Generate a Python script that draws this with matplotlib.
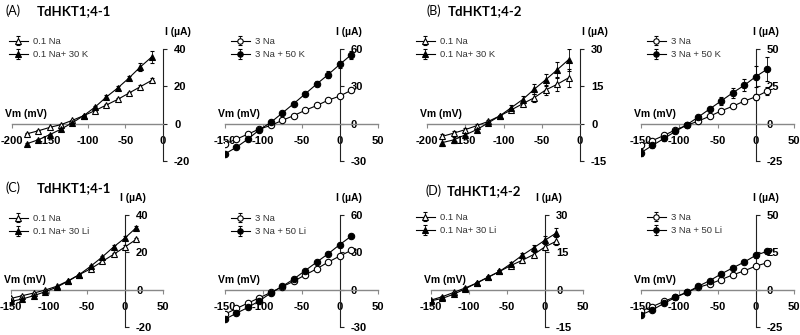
import matplotlib
matplotlib.use("Agg")
import matplotlib.pyplot as plt

plt.rcParams.update({
    "font.family": ["Liberation Sans", "DejaVu Sans"],
    "axes.unicode_minus": False,
})

W, H = 800, 335

# ---------------------------------------------------------------- data
V_LONG = [-180, -165, -150, -135, -120, -105, -90, -75, -60, -45, -30, -15]
V_SHORT = [-150, -135, -120, -105, -90, -75, -60, -45, -30, -15, 0, 15]

# (A) TdHKT1;4-1, K+ addition
a1_na = [-5.4, -3.8, -2.0, -0.5, 1.8, 4.3, 7.0, 10.0, 13.0, 16.4, 19.8, 23.2]
a1_na_err = [0.3, 0.3, 0.3, 0.2, 0.2, 0.3, 0.4, 0.5, 0.6, 0.7, 0.8, 1.0]
a1_nak = [-10.7, -8.6, -5.9, -2.9, 0.5, 4.3, 8.9, 14.3, 19.1, 24.5, 30.4, 35.7]
a1_nak_err = [0.5, 0.4, 0.4, 0.3, 0.3, 0.4, 0.6, 0.8, 1.0, 1.3, 2.2, 3.0]
a2_na = [-16.2, -12.4, -8.4, -4.3, -1.4, 2.7, 6.5, 10.8, 14.6, 18.9, 22.2, 26.8]
a2_na_err = [0.8, 0.6, 0.5, 0.4, 0.3, 0.4, 0.5, 0.6, 0.7, 0.8, 1.0, 1.2]
a2_nak = [-24.3, -18.9, -12.4, -4.9, 1.1, 8.6, 16.2, 24.0, 31.9, 39.5, 47.6, 55.4]
a2_nak_err = [1.0, 0.8, 0.7, 0.6, 0.5, 0.8, 1.2, 1.5, 2.0, 3.0, 3.0, 3.2]

# (B) TdHKT1;4-2, K+ addition
b1_na = [-5.1, -3.8, -2.4, -0.8, 0.9, 3.1, 5.5, 8.0, 10.4, 13.5, 15.8, 18.4]
b1_na_err = [0.8, 0.8, 0.8, 0.6, 0.5, 0.5, 0.8, 1.0, 1.5, 2.0, 2.5, 3.5]
b1_nak = [-7.6, -6.5, -4.5, -2.4, 0.3, 3.1, 6.4, 9.7, 13.8, 17.6, 21.6, 25.7]
b1_nak_err = [1.5, 1.2, 1.0, 0.8, 0.5, 0.5, 1.0, 1.5, 2.0, 2.5, 3.0, 4.5]
b2_na = [-14.2, -11.3, -7.9, -4.1, -1.1, 1.8, 5.0, 8.6, 11.7, 15.1, 18.0, 21.8]
b2_na_err = [1.0, 1.0, 1.0, 0.8, 0.5, 0.5, 0.8, 1.0, 1.2, 1.5, 2.0, 2.5]
b2_nak = [-19.4, -14.6, -9.9, -5.2, -0.7, 4.5, 9.9, 15.3, 20.7, 25.7, 31.5, 36.5]
b2_nak_err = [2.5, 2.0, 1.5, 1.0, 0.8, 1.0, 1.5, 2.5, 3.5, 4.0, 7.0, 8.0]

# (C) TdHKT1;4-1, Li+ addition
c1_na = [-4.7, -3.2, -1.8, -0.2, 1.8, 4.7, 8.1, 11.2, 15.1, 18.9, 22.9, 27.0]
c1_na_err = [0.3, 0.3, 0.2, 0.2, 0.2, 0.3, 0.4, 0.5, 0.6, 0.7, 0.8, 0.9]
c1_nali = [-6.3, -5.0, -3.2, -1.1, 1.3, 4.5, 8.1, 12.6, 17.5, 22.9, 27.7, 33.3]
c1_nali_err = [0.3, 0.3, 0.3, 0.2, 0.2, 0.3, 0.4, 0.5, 0.6, 0.8, 0.9, 1.0]
c2_na = [-19.7, -15.1, -10.8, -6.5, -2.2, 2.4, 6.8, 11.9, 16.8, 22.2, 27.0, 31.6]
c2_na_err = [0.8, 0.7, 0.6, 0.5, 0.4, 0.4, 0.5, 0.6, 0.8, 1.0, 1.2, 1.4]
c2_nali = [-23.8, -18.9, -14.3, -8.9, -2.7, 2.7, 8.6, 15.4, 22.2, 28.9, 36.2, 43.0]
c2_nali_err = [0.8, 0.7, 0.6, 0.5, 0.4, 0.4, 0.6, 0.8, 1.0, 1.2, 1.4, 1.6]

# (D) TdHKT1;4-2, Li+ addition
d1_na = [-4.2, -2.8, -1.1, 0.7, 2.6, 5.0, 7.3, 9.7, 11.8, 14.1, 17.2, 19.5]
d1_na_err = [0.4, 0.4, 0.3, 0.3, 0.3, 0.4, 0.5, 0.7, 0.9, 1.1, 1.3, 1.5]
d1_nali = [-4.5, -3.5, -1.8, 0.3, 2.7, 5.0, 7.3, 10.4, 13.8, 16.8, 19.9, 22.8]
d1_nali_err = [0.4, 0.4, 0.3, 0.3, 0.3, 0.4, 0.5, 0.7, 1.0, 1.2, 1.5, 1.8]
d2_na = [-14.2, -11.3, -7.9, -4.7, -1.8, 1.6, 3.8, 6.8, 9.9, 12.6, 15.8, 18.0]
d2_na_err = [0.8, 0.7, 0.6, 0.5, 0.4, 0.4, 0.5, 0.6, 0.7, 0.8, 1.0, 1.2]
d2_nali = [-16.9, -13.5, -9.2, -5.2, -1.8, 2.3, 6.1, 10.6, 14.6, 18.5, 23.0, 25.7]
d2_nali_err = [0.9, 0.8, 0.7, 0.5, 0.4, 0.4, 0.6, 0.8, 1.0, 1.2, 1.5, 1.8]

# ---------------------------------------------------------------- panels
# (left, right, top, bottom) in px, xlim, ylim, yticks, marker, voltages,
# series, legend labels, legend anchor (px), offset of the "I (uA)" label
PANELS = [
    ((12, 163, 49, 161), (-200, 0), (-20, 40), [-20, 0, 20, 40], "^", V_LONG,
     (a1_na, a1_na_err, a1_nak, a1_nak_err), ("0.1 Na", "0.1 Na+ 30 K"), (9, 37), 15),
    ((225, 378, 49, 161), (-150, 50), (-30, 60), [-30, 0, 30, 60], "o", V_SHORT,
     (a2_na, a2_na_err, a2_nak, a2_nak_err), ("3 Na", "3 Na + 50 K"), (231, 37), 9),
    ((427, 580, 49, 161), (-200, 0), (-15, 30), [-15, 0, 15, 30], "^", V_LONG,
     (b1_na, b1_na_err, b1_nak, b1_nak_err), ("0.1 Na", "0.1 Na+ 30 K"), (416, 37), 15),
    ((641, 794, 49, 161), (-150, 50), (-25, 50), [-25, 0, 25, 50], "o", V_SHORT,
     (b2_na, b2_na_err, b2_nak, b2_nak_err), ("3 Na", "3 Na + 50 K"), (647, 37), 10),
    ((11, 163, 215, 327), (-150, 50), (-20, 40), [-20, 0, 20, 40], "^", V_SHORT,
     (c1_na, c1_na_err, c1_nali, c1_nali_err), ("0.1 Na", "0.1 Na+ 30 Li"), (9, 214), 8),
    ((225, 378, 215, 327), (-150, 50), (-30, 60), [-30, 0, 30, 60], "o", V_SHORT,
     (c2_na, c2_na_err, c2_nali, c2_nali_err), ("3 Na", "3 Na + 50 Li"), (231, 214), 9),
    ((431, 583, 215, 327), (-150, 50), (-15, 30), [-15, 0, 15, 30], "^", V_SHORT,
     (d1_na, d1_na_err, d1_nali, d1_nali_err), ("0.1 Na", "0.1 Na+ 30 Li"), (416, 213), 4),
    ((641, 794, 215, 327), (-150, 50), (-25, 50), [-25, 0, 25, 50], "o", V_SHORT,
     (d2_na, d2_na_err, d2_nali, d2_nali_err), ("3 Na", "3 Na + 50 Li"), (647, 213), 10),
]

TITLES = [("(A)", "TdHKT1;4-1", 5, 37, 11), ("(B)", "TdHKT1;4-2", 427, 448, 11),
          ("(C)", "TdHKT1;4-1", 5, 37, 188), ("(D)", "TdHKT1;4-2", 425, 447, 191)]

fig = plt.figure(figsize=(W / 100, H / 100), dpi=100)

LABEL_FONT = dict(fontsize=7.5, fontweight="bold")

for (box, xlim, ylim, yticks, mk, volts, series, labels, legpos, ilab_off) in PANELS:
    left, right, top, bottom = box
    ax = fig.add_axes([left / W, 1 - bottom / H, (right - left) / W, (bottom - top) / H])
    ax.set_xlim(*xlim)
    ax.set_ylim(*ylim)
    ax.patch.set_alpha(0)

    ctl, ctl_err, trt, trt_err = series
    ax.errorbar(volts, ctl, yerr=ctl_err, color="black", marker=mk, markersize=4.6,
                markerfacecolor="white", markeredgecolor="black", markeredgewidth=0.8,
                linewidth=0.8, elinewidth=0.6, capsize=1.5, capthick=0.6,
                label=labels[0], zorder=3)
    ax.errorbar(volts, trt, yerr=trt_err, color="black", marker=mk, markersize=4.6,
                markerfacecolor="black", markeredgecolor="black", markeredgewidth=0.8,
                linewidth=0.8, elinewidth=0.6, capsize=1.5, capthick=0.6,
                label=labels[1], zorder=3)

    # axes crossing at the origin
    ax.spines["left"].set_visible(False)
    ax.spines["top"].set_visible(False)
    ax.spines["right"].set_position(("data", 0))
    ax.spines["bottom"].set_position(("data", 0))
    ax.spines["right"].set_color("#222222")
    ax.spines["bottom"].set_color("#888888")
    ax.spines["right"].set_linewidth(0.8)
    ax.spines["bottom"].set_linewidth(1.0)
    ax.yaxis.set_ticks_position("right")
    ax.xaxis.set_ticks_position("bottom")
    ax.set_yticks(yticks)
    ax.set_xticks(list(range(xlim[0], xlim[1] + 1, 50)))
    ax.tick_params(axis="y", direction="out", length=3, width=0.8, color="#222222", pad=5,
                   labelsize=8)
    ax.tick_params(axis="x", direction="out", length=3, width=0.8, color="#888888", pad=6,
                   labelsize=8)
    for lab in ax.get_xticklabels() + ax.get_yticklabels():
        lab.set_fontweight("bold")

    # axis labels
    x0_px = left + (0 - xlim[0]) / (xlim[1] - xlim[0]) * (right - left)
    y0_px = top + (ylim[1] - 0) / (ylim[1] - ylim[0]) * (bottom - top)
    fig.text((x0_px + ilab_off) / W, 1 - (top - 17) / H, "I (\u00b5A)", ha="center",
             va="center", **LABEL_FONT)
    fig.text((left - 7) / W, 1 - (y0_px - 10) / H, "Vm (mV)", ha="left", va="center",
             **LABEL_FONT)

    handles, labs = ax.get_legend_handles_labels()
    ax.legend(handles, labs, loc="upper left",
              bbox_to_anchor=(legpos[0] / W, 1 - legpos[1] / H),
              bbox_transform=fig.transFigure, frameon=False, fontsize=6.8,
              handlelength=2.0, handletextpad=0.5, labelspacing=0.45,
              borderpad=0, borderaxespad=0, labelcolor="#333333", markerscale=0.85)

for tag, name, xt, xn, yt in TITLES:
    fig.text(xt / W, 1 - yt / H, tag, ha="left", va="center", fontsize=9,
             family=["Lato", "DejaVu Sans"])
    fig.text(xn / W, 1 - yt / H, name, ha="left", va="center", fontsize=9.5,
             fontweight="bold", family=["Lato", "DejaVu Sans"])

fig.savefig("out.png", dpi=100)
